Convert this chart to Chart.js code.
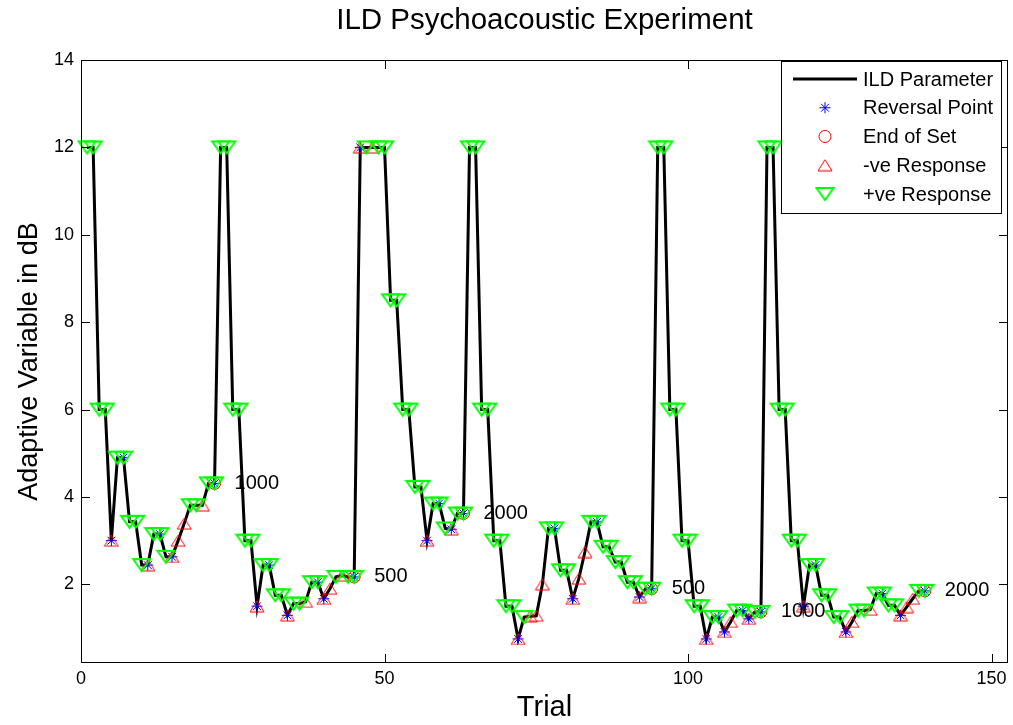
<!DOCTYPE html>
<html>
<head>
<meta charset="utf-8">
<title>ILD Psychoacoustic Experiment</title>
<script src="https://cdn.jsdelivr.net/npm/chart.js@4.4.1/dist/chart.umd.min.js"></script>
<style>
  html, body { margin: 0; padding: 0; background: #fff; }
  #wrap { width: 1013px; height: 725px; }
</style>
</head>
<body>
<div id="wrap"><canvas id="ildChart" width="1013" height="725"></canvas></div>
<script>
// ILD level (dB) presented on each trial, one array per frequency set
const set1 = [12, 12, 6, 6, 3.0, 4.9, 4.9, 3.43, 3.43, 2.44, 2.44, 3.15, 3.15, 2.63, 2.63, 3.0, 3.39, 3.81, 3.81, 3.81, 4.31, 4.31];
const set2 = [12, 12, 6, 6, 3.0, 3.0, 1.5, 2.44, 2.44, 1.75, 1.75, 1.29, 1.56, 1.56, 1.6, 2.05, 2.05, 1.67, 1.9, 2.17, 2.2, 2.17, 2.17];
const set3 = [12, 12, 12, 12, 12, 8.5, 8.5, 6, 6, 4.23, 4.23, 3.0, 3.85, 3.85, 3.28, 3.26, 3.62, 3.62];
const set4 = [12, 12, 6, 6, 3.0, 3.0, 1.5, 1.5, 0.75, 1.25, 1.27, 1.28, 2.0, 3.28, 3.28, 2.32, 2.32, 1.67, 2.13, 2.74, 3.43, 3.43, 2.86, 2.86, 2.51, 2.51, 2.05, 2.05, 1.71, 1.9, 1.9];
const set5 = [12, 12, 6, 6, 3.0, 3.0, 1.5, 1.5, 0.75, 1.25, 1.25, 0.91, 1.14, 1.4, 1.4, 1.21, 1.37, 1.37];
const set6 = [12, 12, 6, 6, 3.0, 3.0, 1.5, 2.44, 2.44, 1.75, 1.75, 1.25, 1.25, 0.91, 1.14, 1.4, 1.4, 1.42, 1.79, 1.79, 1.52, 1.52, 1.29, 1.48, 1.67, 1.85, 1.85];

// listener answer on each trial: '+' correct, '-' wrong
const answers1 = '++++-+++++-+++---++-++';
const answers2 = '++++++-++++-++-++--+-++';
const answers3 = '-+-++++++++-+++-++';
const answers4 = '++++++++-+---++++---++++++++-++';
const answers5 = '++++++++-++--++-++';
const answers6 = '++++++-++++++--++-++++---++';

const reversalTrials = [5, 7, 11, 13, 15, 22, 29, 31, 34, 39, 40, 45, 46, 57, 59, 61, 63,
  72, 78, 81, 85, 92, 94, 103, 105, 106, 109, 110, 112, 119, 121, 126, 132, 135, 139];
const setEndTrials = [22, 45, 63, 94, 112, 139];
const setLabels = ['1000', '500', '2000', '500', '1000', '2000'];

const xTicks = [0, 50, 100, 150];
const yTicks = [2, 4, 6, 8, 10, 12, 14];

const ildValues = [...set1, ...set2, ...set3, ...set4, ...set5, ...set6];
const answers = (answers1 + answers2 + answers3 + answers4 + answers5 + answers6).split('');
const trials = ildValues.map((v, i) => i + 1);

const pt = (t) => ({ x: t, y: ildValues[t - 1] });

const FONT = "'Liberation Sans', Arial, Helvetica, sans-serif";

// MATLAB draws its triangles flatter than equilateral ones, so build them by hand
function triangleMarker(color, w, h, lw, down) {
    const c = document.createElement('canvas');
    c.width = w + lw * 2;
    c.height = h + lw * 2;
    const g = c.getContext('2d');
    g.strokeStyle = color;
    g.lineWidth = lw;
    const l = lw, r = w + lw, t = lw, b = h + lw;
    g.beginPath();
    if (down) { g.moveTo(l, t); g.lineTo(r, t); g.lineTo((l + r) / 2, b); }
    else { g.moveTo((l + r) / 2, t); g.lineTo(r, b); g.lineTo(l, b); }
    g.closePath();
    g.stroke();
    return c;
}

const upTriangle = triangleMarker('#ff0000', 14, 11, 1, false);
const downTriangle = triangleMarker('#00ff00', 17, 12, 2, true);

// scales keep the exact box they are given, no extra room for edge labels
const noPadding = s => { s.paddingLeft = 0; s.paddingRight = 0; s.paddingTop = 0; s.paddingBottom = 0; };

// frame with inward ticks, set labels and the boxed legend
const matlabAxes = {
    id: 'matlabAxes',
    afterDatasetsDraw(chart) {
        const { ctx, chartArea: a, scales: { x, y } } = chart;
        ctx.save();
        ctx.strokeStyle = '#000';
        ctx.lineWidth = 1;
        ctx.strokeRect(a.left + 0.5, a.top + 0.5, a.right - a.left - 1, a.bottom - a.top - 1);
        const tl = 9;
        ctx.beginPath();
        xTicks.forEach(v => {
            const px = Math.round(x.getPixelForValue(v)) + 0.5;
            ctx.moveTo(px, a.bottom); ctx.lineTo(px, a.bottom - tl);
            ctx.moveTo(px, a.top); ctx.lineTo(px, a.top + tl);
        });
        yTicks.forEach(v => {
            const py = Math.round(y.getPixelForValue(v)) + 0.5;
            ctx.moveTo(a.left, py); ctx.lineTo(a.left + tl, py);
            ctx.moveTo(a.right, py); ctx.lineTo(a.right - tl, py);
        });
        ctx.stroke();

        // frequency of each set, written just after its last trial
        ctx.fillStyle = '#000';
        ctx.font = '20px ' + FONT;
        ctx.textAlign = 'left';
        ctx.textBaseline = 'middle';
        setEndTrials.forEach((t, i) => {
            ctx.fillText(setLabels[i], x.getPixelForValue(t + 3.3), y.getPixelForValue(ildValues[t - 1]));
        });

        // legend box in the top right corner
        const lw = 220, lh = 152;
        const lx = a.right - 7 - lw, ly = a.top + 1;
        ctx.fillStyle = '#fff';
        ctx.fillRect(lx, ly, lw, lh);
        ctx.strokeRect(lx + 0.5, ly + 0.5, lw, lh);
        chart.data.datasets.forEach((ds, i) => {
            const cy = ly + 18 + i * 28.75;
            if (ds.showLine) {
                ctx.strokeStyle = ds.borderColor;
                ctx.lineWidth = ds.borderWidth;
                ctx.beginPath();
                ctx.moveTo(lx + 12, cy);
                ctx.lineTo(lx + 76, cy);
                ctx.stroke();
            } else {
                ctx.strokeStyle = ds.borderColor;
                ctx.lineWidth = ds.borderWidth;
                ctx.fillStyle = 'rgba(0,0,0,0)';
                Chart.helpers.drawPoint(ctx, {
                    pointStyle: ds.pointStyle, radius: ds.pointRadius,
                    borderWidth: ds.borderWidth, rotation: 0
                }, lx + 44, cy);
            }
            ctx.fillStyle = '#000';
            ctx.fillText(ds.label, lx + 82, cy + 1);
        });
        ctx.restore();
    }
};

const tickFont = { family: FONT, size: 18 };

new Chart(document.getElementById('ildChart'), {
    type: 'scatter',
    data: {
        datasets: [
            {
                label: 'ILD Parameter', data: trials.map(pt), showLine: true,
                borderColor: '#000000', borderWidth: 3, pointRadius: 0, order: 5
            },
            {
                label: 'Reversal Point', data: reversalTrials.map(pt), pointStyle: 'star',
                pointRadius: 5.5, borderColor: '#0000ff', borderWidth: 1, order: 4
            },
            {
                label: 'End of Set', data: setEndTrials.map(pt), pointStyle: 'circle',
                pointRadius: 6, borderColor: '#ff0000', backgroundColor: 'rgba(0,0,0,0)', borderWidth: 1, order: 3
            },
            {
                label: '-ve Response', data: trials.filter(t => answers[t - 1] === '-').map(pt),
                pointStyle: upTriangle, pointRadius: 7, borderColor: '#ff0000', borderWidth: 1, order: 2
            },
            {
                label: '+ve Response', data: trials.filter(t => answers[t - 1] === '+').map(pt),
                pointStyle: downTriangle, pointRadius: 9, borderColor: '#00ff00', borderWidth: 2, order: 1
            }
        ]
    },
    options: {
        responsive: false,
        animation: false,
        events: [],
        clip: false,
        layout: { autoPadding: false, padding: { top: 0, right: 5, bottom: 0, left: 0 } },
        plugins: {
            legend: { display: false },
            tooltip: { enabled: false },
            title: {
                display: true, fullSize: false, text: 'ILD Psychoacoustic Experiment', color: '#000',
                font: { family: FONT, size: 29.5, weight: 'normal' },
                padding: { top: 3, bottom: 21.6 }
            }
        },
        scales: {
            x: {
                type: 'linear', min: 0, max: 152.7,
                afterBuildTicks: s => { s.ticks = xTicks.map(v => ({ value: v })); },
                afterFit: s => { s.height = 62; noPadding(s); },
                grid: { display: false, drawTicks: false },
                border: { display: false },
                ticks: { color: '#000', font: tickFont, padding: 5, maxRotation: 0 },
                title: { display: true, text: 'Trial', color: '#000', font: { family: FONT, size: 29 }, padding: { top: 0, bottom: 0 } }
            },
            y: {
                type: 'linear', min: 0.2, max: 14,
                afterBuildTicks: s => { s.ticks = yTicks.map(v => ({ value: v })); },
                afterFit: s => { s.width = 81; noPadding(s); },
                grid: { display: false, drawTicks: false },
                border: { display: false },
                ticks: { color: '#000', font: tickFont, padding: 7 },
                title: { display: true, text: 'Adaptive Variable in dB', color: '#000', font: { family: FONT, size: 27 }, padding: { top: 13, bottom: 0 } }
            }
        }
    },
    plugins: [matlabAxes]
});
</script>
</body>
</html>
